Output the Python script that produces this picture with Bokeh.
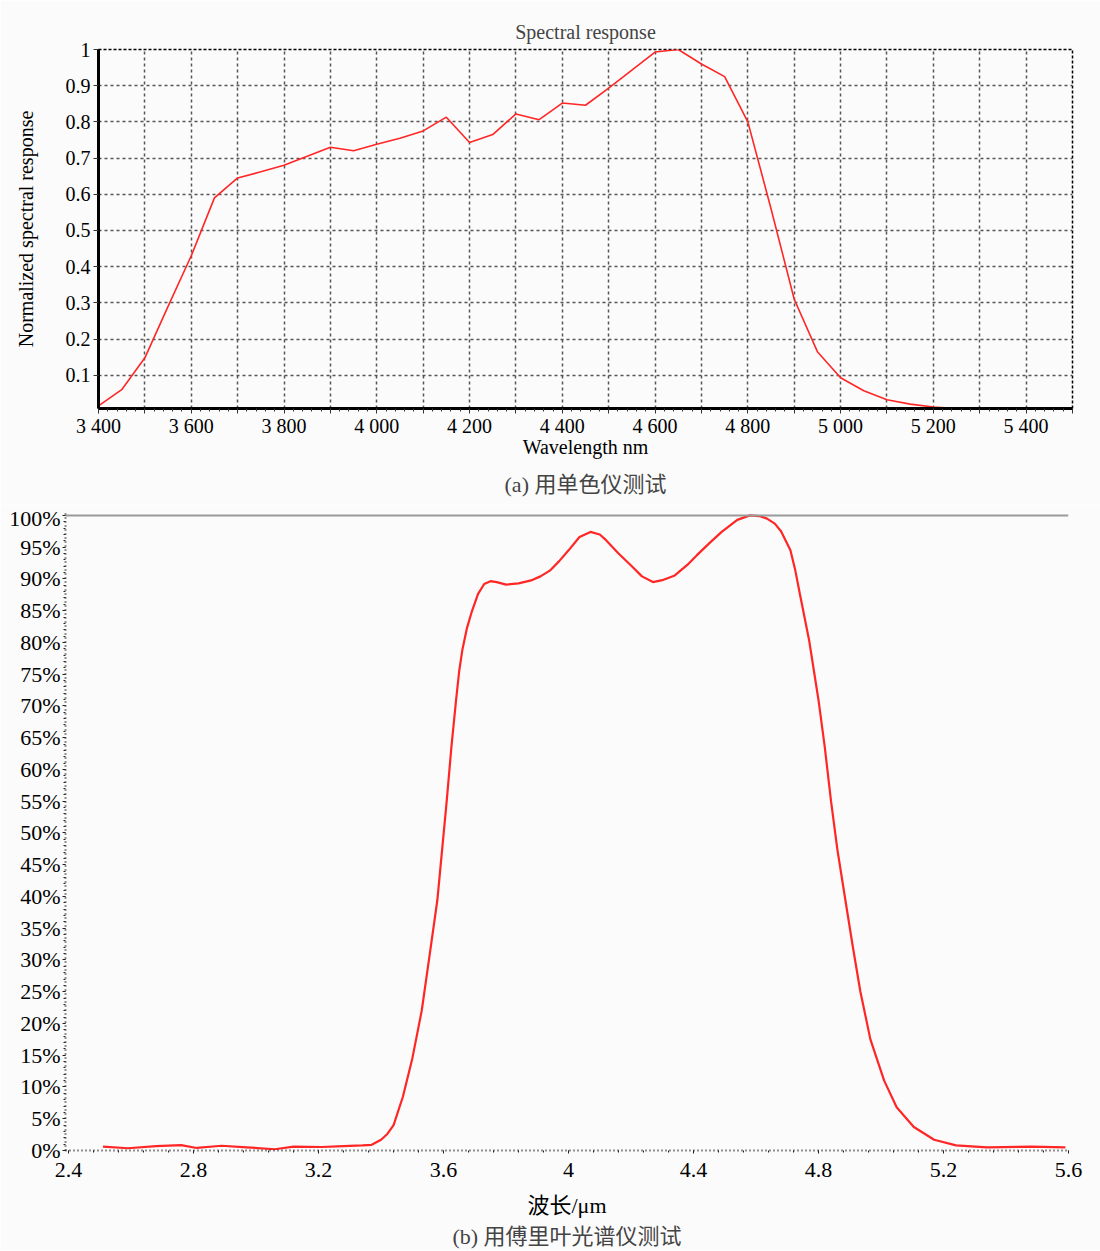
from bokeh.plotting import figure
from bokeh.models import FixedTicker, Range1d, Title, Span
from bokeh.embed import file_html
from bokeh.resources import INLINE

# ---------------- data: panel (a) monochromator ----------------
wl_nm = [3400, 3450, 3500, 3550, 3600, 3650, 3700, 3750, 3800, 3850, 3900, 3950,
         4000, 4050, 4100, 4150, 4200, 4250, 4300, 4350, 4400, 4450, 4500, 4550,
         4600, 4650, 4700, 4750, 4800, 4850, 4900, 4950, 5000, 5050, 5100, 5150,
         5200, 5225]
resp = [0.015, 0.06, 0.148, 0.29, 0.43, 0.59, 0.645, 0.662, 0.68, 0.705, 0.73, 0.72,
        0.738, 0.755, 0.775, 0.813, 0.743, 0.765, 0.822, 0.806, 0.852, 0.846, 0.893, 0.943,
        0.993, 1.0, 0.96, 0.925, 0.80, 0.56, 0.31, 0.165, 0.093, 0.057, 0.032, 0.02,
        0.012, 0.01]
a_xticks = [3400, 3500, 3600, 3700, 3800, 3900, 4000, 4100, 4200, 4300, 4400,
            4500, 4600, 4700, 4800, 4900, 5000, 5100, 5200, 5300, 5400, 5500]
a_xlabels = ["3 400", "", "3 600", "", "3 800", "", "4 000", "", "4 200", "", "4 400",
             "", "4 600", "", "4 800", "", "5 000", "", "5 200", "", "5 400", ""]
a_yticks = [0.1, 0.2, 0.3, 0.4, 0.5, 0.6, 0.7, 0.8, 0.9, 1.0]
a_ylabels = ["0.1", "0.2", "0.3", "0.4", "0.5", "0.6", "0.7", "0.8", "0.9", "1"]

# ---------------- data: panel (b) FTIR ----------------
wl_um = [2.51, 2.59, 2.68, 2.76, 2.81, 2.89, 2.97, 3.06, 3.12, 3.21,
         3.28, 3.34, 3.37, 3.40, 3.42, 3.44, 3.47, 3.50, 3.53, 3.55,
         3.58, 3.61, 3.625, 3.64, 3.65, 3.66, 3.675, 3.69, 3.70, 3.71,
         3.73, 3.75, 3.77, 3.80, 3.84, 3.88, 3.91, 3.94, 3.97, 4.00,
         4.035, 4.07, 4.10, 4.12, 4.16, 4.20, 4.235, 4.27, 4.30, 4.34,
         4.38, 4.41, 4.45, 4.49, 4.54, 4.58, 4.61, 4.635, 4.66, 4.68,
         4.71, 4.725, 4.74, 4.77, 4.80, 4.82, 4.84, 4.86, 4.886, 4.91,
         4.934, 4.966, 5.01, 5.05, 5.105, 5.17, 5.24, 5.34, 5.48, 5.59]
trans = [0.6, 0.35, 0.7, 0.85, 0.4, 0.75, 0.5, 0.2, 0.6, 0.55,
         0.7, 0.8, 0.9, 1.7, 2.6, 4.0, 8.5, 14.5, 22.0, 28.9,
         39.4, 55.0, 63.5, 70.9, 75.5, 78.8, 82.3, 84.8, 86.2, 87.6,
         89.2, 89.65, 89.5, 89.1, 89.3, 89.76, 90.4, 91.3, 92.8, 94.5,
         96.6, 97.4, 97.0, 96.1, 94.0, 92.1, 90.4, 89.5, 89.8, 90.55,
         92.2, 93.7, 95.6, 97.4, 99.3, 100.0, 99.9, 99.5, 98.7, 97.5,
         94.5, 91.5, 87.7, 80.3, 70.9, 63.5, 55.0, 47.5, 39.4, 32.0,
         25.0, 17.5, 11.0, 6.8, 3.7, 1.7, 0.8, 0.5, 0.6, 0.5]
b_xticks = [2.4, 2.8, 3.2, 3.6, 4.0, 4.4, 4.8, 5.2, 5.6]
b_xlabels = ["2.4", "2.8", "3.2", "3.6", "4", "4.4", "4.8", "5.2", "5.6"]
b_yticks = [0, 5, 10, 15, 20, 25, 30, 35, 40, 45, 50, 55, 60, 65, 70, 75, 80, 85, 90, 95, 100]
b_ylabels = [f"{t}%" for t in b_yticks]

SERIF = "Liberation Serif"
CJK = "Liberation Serif, Noto Sans CJK SC"
BG = "#fbfbfb"
RED = "#ff2626"

# ---------------- panel (a) ----------------
p1 = figure(frame_width=974, frame_height=359,
            x_range=Range1d(3400, 5500), y_range=Range1d(0.008, 1.0),
            output_backend="svg", toolbar_location=None,
            min_border_left=98, min_border_right=28, min_border_top=49, min_border_bottom=92)
p1.background_fill_color = BG
p1.border_fill_color = BG
p1.outline_line_color = "black"
p1.outline_line_dash = "3 2"
p1.outline_line_width = 1.5

p1.title.text = "Spectral response"
p1.title.align = "center"
p1.title.text_font = SERIF
p1.title.text_font_size = "20px"
p1.title.text_font_style = "normal"
p1.title.standoff = 13

for g in (p1.xgrid[0], p1.ygrid[0]):
    g.grid_line_color = "#555555"
    g.grid_line_dash = "3 3"
    g.grid_line_width = 1.5

p1.line(wl_nm, resp, line_color=RED, line_width=1.6)

xa = p1.xaxis[0]
xa.ticker = FixedTicker(ticks=a_xticks,
                        minor_ticks=[3400 + 20 * i for i in range(106)])
xa.major_label_overrides = dict(zip(a_xticks, a_xlabels))
xa.axis_label = "Wavelength nm"
ya = p1.yaxis[0]
ya.ticker = FixedTicker(ticks=a_yticks)
ya.major_label_overrides = dict(zip(a_yticks, a_ylabels))
ya.axis_label = "Normalized spectral response"
for ax in (xa, ya):
    ax.axis_line_width = 3
    ax.axis_line_color = "black"
    ax.major_tick_line_color = "#333333"
    ax.major_tick_in = 0
    ax.major_tick_out = 5
    ax.minor_tick_line_color = "#333333"
    ax.minor_tick_in = 0
    ax.minor_tick_out = 3
    ax.major_label_text_font = SERIF
    ax.major_label_text_font_size = "20px"
    ax.major_label_text_color = "black"
    ax.axis_label_text_font = SERIF
    ax.axis_label_text_font_size = "20px"
    ax.axis_label_text_font_style = "normal"
    ax.axis_label_text_color = "black"
    ax.major_label_standoff = 3
xa.major_label_standoff = 1
xa.axis_label_standoff = -4
ya.axis_label_standoff = 26

p1.add_layout(Title(text="(a) 用单色仪测试", align="center", text_font=CJK,
                    text_font_size="22px", text_font_style="normal", standoff=18), "below")

# ---------------- panel (b) ----------------
p2 = figure(frame_width=1003, frame_height=637,
            x_range=Range1d(2.39, 5.6), y_range=Range1d(0, 100.3),
            output_backend="svg", toolbar_location=None,
            min_border_left=65, min_border_right=32, min_border_top=8, min_border_bottom=98)
p2.background_fill_color = BG
p2.border_fill_color = BG
p2.outline_line_color = None
p2.xgrid.visible = False
p2.ygrid.visible = False

p2.add_layout(Span(location=100, dimension="width", line_color="#9a9a9a", line_width=2))
p2.line(wl_um, trans, line_color=RED, line_width=2.2)

xb = p2.xaxis[0]
xb.ticker = FixedTicker(ticks=b_xticks,
                        minor_ticks=[2.4 + 0.08 * i for i in range(41)])
xb.major_label_overrides = dict(zip(b_xticks, b_xlabels))
xb.axis_label = "波长/μm"
yb = p2.yaxis[0]
yb.ticker = FixedTicker(ticks=b_yticks, minor_ticks=list(range(0, 101)))
yb.major_label_overrides = dict(zip(b_yticks, b_ylabels))
for ax in (xb, yb):
    ax.axis_line_width = 2
    ax.axis_line_color = "#222222"
    ax.axis_line_dash = "1 3"
    ax.major_tick_line_color = "#222222"
    ax.major_tick_in = 0
    ax.major_tick_out = 3
    ax.minor_tick_line_color = "#222222"
    ax.minor_tick_in = 0
    ax.minor_tick_out = 2
    ax.major_label_text_font = SERIF
    ax.major_label_text_font_size = "22px"
    ax.major_label_text_color = "black"
    ax.axis_label_text_font = CJK
    ax.axis_label_text_font_size = "22px"
    ax.axis_label_text_font_style = "normal"
    ax.axis_label_text_color = "black"
    ax.major_label_standoff = 2
xb.major_label_standoff = 9
xb.axis_label_standoff = 13

p2.add_layout(Title(text="(b) 用傅里叶光谱仪测试", align="center", text_font=CJK,
                    text_font_size="22px", text_font_style="normal", standoff=3), "below")

open("out.html", "w").write(file_html([p1, p2], INLINE))
